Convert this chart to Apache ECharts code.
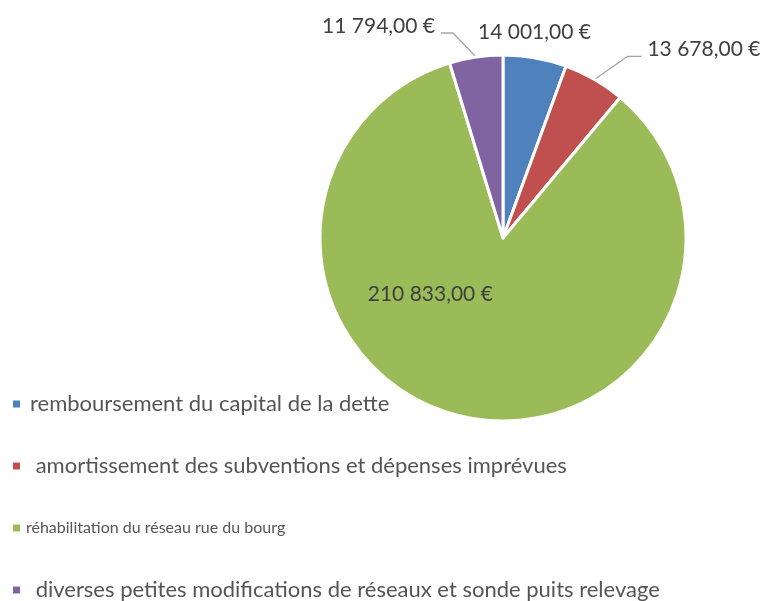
<!DOCTYPE html>
<html>
<head>
<meta charset="utf-8">
<script src="https://cdn.jsdelivr.net/npm/echarts@6/dist/echarts.min.js"></script>
<style>
  html, body { margin: 0; padding: 0; background: #fff; }
  #chart { width: 766px; height: 601px; }
</style>
</head>
<body>
<div id="chart"></div>
<script>
let names = [
  'remboursement du capital de la dette',
  ' amortissement des subventions et dépenses imprévues',
  'réhabilitation du réseau rue du bourg',
  ' diverses petites modifications de réseaux et sonde puits relevage'
];
let values = [14001, 13678, 210833, 11794];
let colors = ['#4f81bd', '#c0504d', '#9bbb59', '#8064a2'];

function fmtEuro(v) {
  let s = String(Math.round(v)).replace(/\B(?=(\d{3})+(?!\d))/g, ' ');
  return s + ',00 €';
}

let myChart = echarts.init(document.getElementById('chart'));

let option = {
  color: colors,
  textStyle: { fontFamily: 'Lato' },
  legend: {
    orient: 'vertical',
    left: 6,
    top: 388,
    height: 240,
    icon: 'rect',
    itemWidth: 9,
    itemHeight: 9,
    itemGap: 40,
    selectedMode: false,
    textStyle: { fontSize: 22, lineHeight: 22, color: '#555555', fontFamily: 'Lato', padding: [0, 0, 0, 4] },
    data: names.map(function (n, i) {
      if (i === 2) {
        // this one is drawn narrower in the original
        return { name: n, textStyle: { fontSize: 16, lineHeight: 22, padding: [0, 0, 0, 0] } };
      }
      return { name: n };
    })
  },
  series: [
    {
      type: 'pie',
      center: [503, 238],
      radius: [0, 183],
      startAngle: 90,
      clockwise: true,
      avoidLabelOverlap: false,
      itemStyle: { borderColor: '#ffffff', borderWidth: 3 },
      label: {
        show: true,
        position: 'outside',
        fontSize: 21,
        color: '#404040',
        fontFamily: 'Lato',
        formatter: function (p) { return fmtEuro(p.value); }
      },
      labelLine: {
        show: true,
        length: 35,
        length2: 12,
        smooth: false,
        lineStyle: { color: '#a6a6a6', width: 1.3 }
      },
      labelLayout: function (params) {
        let i = params.dataIndex;
        if (i === 0) {
          return {
            x: params.rect.x + params.rect.width / 2,
            y: params.rect.y - 21,
            align: 'center',
            verticalAlign: 'middle'
          };
        }
        if (i === 2) {
          return { dx: -54, dy: -36 };
        }
        let pts = params.labelLinePoints;
        if (!pts) return {};
        let p0 = pts[0];
        if (i === 1) {
          let p1 = [p0[0] + 33, p0[1] - 23];
          let p2 = [p1[0] + 14, p1[1]];
          return {
            x: p2[0] + 6, y: p2[1] - 7,
            align: 'left', verticalAlign: 'middle',
            labelLinePoints: [p0, p1, p2]
          };
        }
        if (i === 3) {
          let p1 = [p0[0] - 23, p0[1] - 24];
          let p2 = [p1[0] - 12, p1[1]];
          return {
            x: p2[0] - 6, y: p2[1] - 7,
            align: 'right', verticalAlign: 'middle',
            labelLinePoints: [p0, p1, p2]
          };
        }
        return {};
      },
      emphasis: { disabled: true },
      data: names.map(function (n, i) {
        let d = { name: n, value: values[i] };
        if (i === 0) d.labelLine = { show: false };
        if (i === 2) {
          d.label = { position: 'inside' };
          d.labelLine = { show: false };
        }
        return d;
      })
    }
  ]
};
myChart.setOption(option);
</script>
</body>
</html>
